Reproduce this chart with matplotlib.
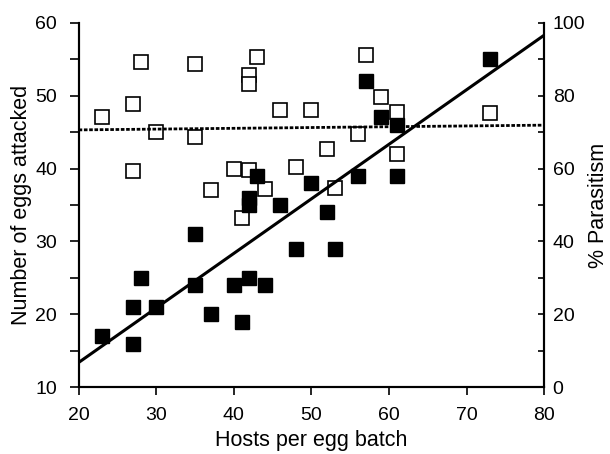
import matplotlib
matplotlib.use('Agg')
import matplotlib.pyplot as plt
from matplotlib.ticker import MultipleLocator

plt.rcParams['font.family'] = ['Liberation Sans', 'DejaVu Sans']

# Hosts per egg batch (shared by both series)
hosts = [23, 27, 27, 28, 30, 35, 35, 37, 40, 41, 42, 42, 42, 43, 44,
         46, 48, 50, 52, 53, 56, 57, 59, 61, 61, 73]
# Number of eggs attacked (filled squares, left axis)
eggs_attacked = [17, 16, 21, 25, 21, 31, 24, 20, 24, 19, 25, 36, 35, 39, 24,
                 35, 29, 38, 34, 29, 39, 52, 47, 46, 39, 55]
# % parasitism (open squares, right axis)
pct_parasitism = [74.0, 59.3, 77.8, 89.3, 70.0, 88.6, 68.6, 54.1, 60.0, 46.3,
                  59.5, 85.7, 83.3, 90.7, 54.5, 76.1, 60.4, 76.0, 65.4, 54.7,
                  69.6, 91.2, 79.7, 75.4, 63.9, 75.3]
# fitted lines
fit_x = [20, 80]
fit_eggs = [13.4, 58.3]
fit_pct = [70.6, 71.9]

x_ticks = [20, 30, 40, 50, 60, 70, 80]
left_ticks = [10, 20, 30, 40, 50, 60]
right_ticks = [0, 20, 40, 60, 80, 100]

fig = plt.figure(figsize=(6.10, 4.54), dpi=100)
ax = fig.add_axes([0.1289, 0.1469, 0.7634, 0.8031])
ax2 = ax.twinx()
# filled squares and solid fit drawn above the open squares
ax.set_zorder(ax2.get_zorder() + 1)
ax.patch.set_visible(False)

ax2.plot(hosts, pct_parasitism, 's', mfc='white', mec='black', ms=9.6, mew=1.2, zorder=2)
ax2.plot(fit_x, fit_pct, color='black', lw=2.0, ls=(0, (1.3, 0.6)), zorder=3)
ax.plot(fit_x, fit_eggs, '-', color='black', lw=2.2, zorder=2)
ax.plot(hosts, eggs_attacked, 's', color='black', ms=10, zorder=3)

ax.set_xlim(20, 80)
ax.set_ylim(10, 60)
ax2.set_ylim(0, 100)
ax.set_xticks(x_ticks)
ax.set_yticks(left_ticks)
ax.yaxis.set_minor_locator(MultipleLocator(5))
ax2.set_yticks(right_ticks)
ax2.yaxis.set_minor_locator(MultipleLocator(10))

for a in (ax, ax2):
    a.spines['top'].set_visible(False)
    for s in a.spines.values():
        s.set_linewidth(1.5)

ax.tick_params(axis='y', which='both', direction='out', length=6.5, width=1.2,
               labelsize=14, pad=9)
ax.tick_params(axis='x', which='both', direction='out', length=5.5, width=1.2,
               labelsize=14, pad=9)
ax2.tick_params(axis='y', which='both', direction='in', length=4, width=1.2,
                labelsize=14, pad=6)

ax.set_xlabel('Hosts per egg batch', fontsize=15.5, labelpad=4)
ax.set_ylabel('Number of eggs attacked', fontsize=15.5, labelpad=2)
ax2.set_ylabel('% Parasitism', fontsize=15.5, rotation=90, labelpad=2)

fig.savefig('out.png', dpi=100)
